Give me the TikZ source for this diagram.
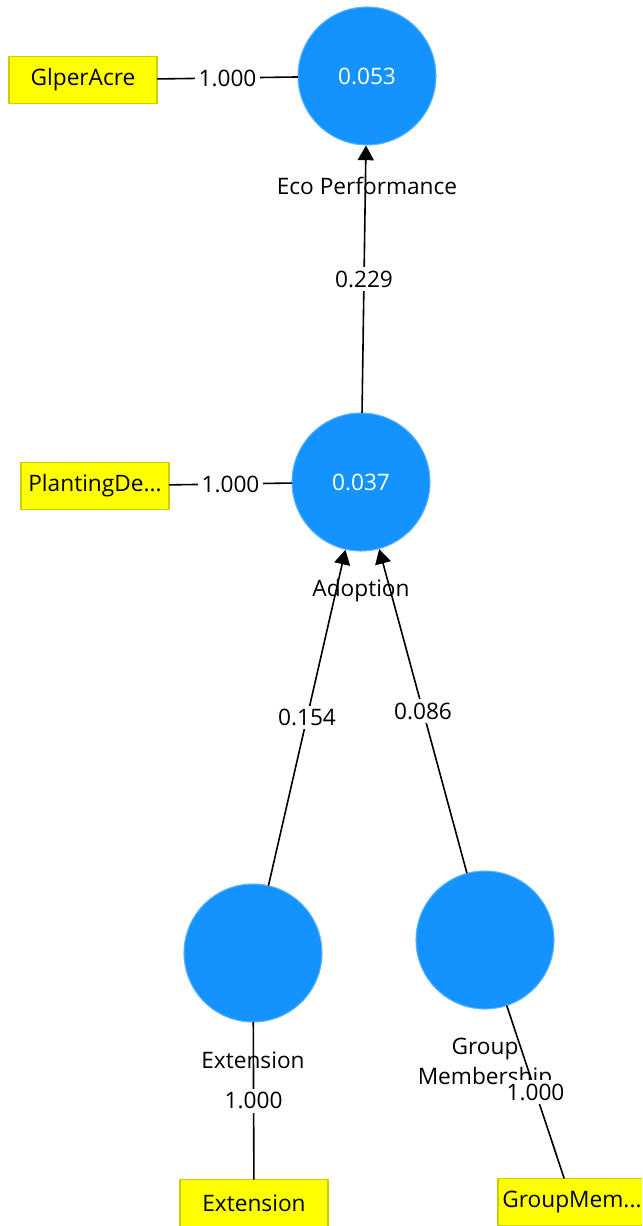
\documentclass[tikz,border=0pt]{standalone}
\usepackage{fontspec}
\setmainfont{Open Sans}
\usetikzlibrary{arrows.meta}
\definecolor{lvfill}{RGB}{20,147,255}
\definecolor{lvedge}{RGB}{95,180,255}
\definecolor{mvfill}{RGB}{255,255,0}
\definecolor{mvedge}{RGB}{205,205,0}

\begin{document}
\begin{tikzpicture}[line cap=round,line join=round,>={Triangle[width=12pt,length=11pt]},x=0.75pt,y=-0.75pt,
  latent/.style={circle,fill=lvfill,draw=lvedge,line width=0.8pt,minimum size=103.5pt,inner sep=0pt,text=white,font=\fontsize{17}{20}\selectfont},
  indicator/.style={rectangle,fill=mvfill,draw=mvedge,line width=0.8pt,minimum width=111pt,minimum height=35pt,inner sep=0pt,font=\fontsize{17}{20}\selectfont},
  lvname/.style={align=center,inner sep=0pt,font=\fontsize{17}{23}\selectfont},
  relpath/.style={line width=1.2pt},
  weight/.style={fill=white,inner sep=2.5pt,midway,font=\fontsize{17}{20}\selectfont}]
\clip (0,0) rectangle (642,1226);
% latent variables
\node[latent] (eco) at (367,76) {0.053};
\node[latent] (adopt) at (361,482) {0.037};
\node[latent] (ext) at (253,953) {};
\node[latent] (group) at (485,940) {};
% indicators
\node[indicator] (glper) at (83,80) {GlperAcre};
\node[indicator] (plant) at (95,486) {PlantingDe...};
\node[indicator] (extind) at (254,1203) {Extension};
\node[indicator] (groupind) at (572,1202) {GroupMem...};
% names of the latent variables
\node[lvname] (econame) at (367,186) {Eco Performance};
\node[lvname] (adoptname) at (361,591) {Adoption};
\node[lvname] (extname) at (253,1060) {Extension};
\node[lvname] (groupname) at (485,1064) {Group\\Membership};
% outer loadings
\draw[relpath] (glper) -- (eco) node[weight] {1.000};
\draw[relpath] (plant) -- (adopt) node[weight] {1.000};
\draw[relpath] (ext) -- (extind) node[weight] {1.000};
\draw[relpath] (group) -- (groupind) node[weight] {1.000};
% path coefficients
\draw[relpath,->] (adopt) -- (eco) node[weight] {0.229};
\draw[relpath,->] (ext) -- (adopt) node[weight] {0.154};
\draw[relpath,->] (group) -- (adopt) node[weight] {0.086};
\end{tikzpicture}
\end{document}
